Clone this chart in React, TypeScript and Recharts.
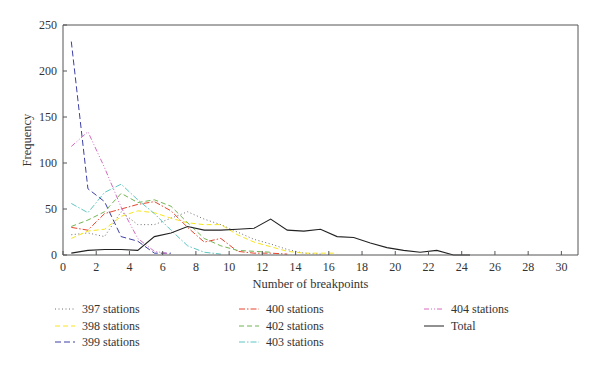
import React from 'react';
import { LineChart, Line, XAxis, YAxis, ReferenceLine, Legend, Label } from 'recharts';

const breakpoints = [0.5, 1.5, 2.5, 3.5, 4.5, 5.5, 6.5, 7.5, 8.5, 9.5, 10.5, 11.5, 12.5, 13.5, 14.5, 15.5, 16.5, 17.5, 18.5, 19.5, 20.5, 21.5, 22.5, 23.5, 24.5];

const s397 = [22, 24, 20, 47, 33, 33, 40, 47, 39, 33, 25, 17, 12, 6, 2, 1];
const s398 = [18, 26, 28, 42, 48, 46, 40, 35, 33, 33, 22, 14, 9, 4, 2, 2, 2];
const s399 = [232, 72, 58, 20, 15, 2, 2];
const s400 = [30, 27, 45, 50, 55, 58, 48, 30, 14, 18, 4, 2, 2, 1];
const s402 = [31, 38, 47, 67, 57, 60, 53, 35, 18, 10, 5, 4, 3];
const s403 = [56, 46, 68, 77, 60, 45, 27, 10, 3, 1];
const s404 = [118, 134, 95, 52, 18, 4, 1];
const total = [2, 5, 6, 6, 5, 20, 24, 31, 27, 27, 28, 29, 39, 27, 26, 28, 20, 19, 13, 8, 5, 3, 5, 0, 0];

const xTicks = [0, 2, 4, 6, 8, 10, 12, 14, 16, 18, 20, 22, 24, 26, 28, 30];
const yTicks = [0, 50, 100, 150, 200, 250];

const series = [
  { key: 's397', name: '397 stations', values: s397, color: '#6e6e6e', dash: '1 2.5' },
  { key: 's398', name: '398 stations', values: s398, color: '#f7e51a', dash: '5 3' },
  { key: 's399', name: '399 stations', values: s399, color: '#3d3fa6', dash: '6 3' },
  { key: 's400', name: '400 stations', values: s400, color: '#e8452e', dash: '6 2 1.5 2' },
  { key: 's402', name: '402 stations', values: s402, color: '#72b450', dash: '5 3' },
  { key: 's403', name: '403 stations', values: s403, color: '#5ec6c2', dash: '6 2 1.5 2' },
  { key: 's404', name: '404 stations', values: s404, color: '#d46cbf', dash: '5 2 1 2 1 2' },
  { key: 'total', name: 'Total', values: total, color: '#222222', dash: undefined as string | undefined },
];

const data = breakpoints.map((x, i) => {
  const row: Record<string, number | undefined> = { x };
  series.forEach((s) => {
    row[s.key] = i < s.values.length ? s.values[i] : undefined;
  });
  return row;
});

const FONT = '"Liberation Serif", "DejaVu Serif", serif';

const LegendContent = () => {
  const colX = [55, 239, 424];
  const rowY = [309, 326, 342];
  return (
    <svg width={600} height={60} style={{ display: 'block' }}>
      {series.map((s, i) => {
        const col = Math.floor(i / 3);
        const row = i % 3;
        const x = colX[col];
        const y = rowY[row] - 300;
        return (
          <g key={s.key}>
            <line x1={x} x2={x + 20} y1={y} y2={y} stroke={s.color} strokeWidth={1} strokeDasharray={s.dash} />
            <text
              x={x + 27}
              y={y}
              dy="0.35em"
              style={{ fontFamily: FONT, fontSize: 12, fill: '#333' }}
            >
              {s.name}
            </text>
          </g>
        );
      })}
    </svg>
  );
};

export default function App() {
  return (
    <div style={{ position: 'absolute', left: 0, top: 0, width: 600, height: 368, background: '#fff', fontFamily: FONT }}>
      <LineChart width={600} height={368} data={data} margin={{ top: 25, right: 22, bottom: 83, left: 0 }}>
        <XAxis
          dataKey="x"
          type="number"
          domain={[0, 31]}
          ticks={xTicks}
          interval={0}
          height={30}
          tickSize={-4}
          tickMargin={11}
          axisLine={{ stroke: '#555' }}
          tickLine={{ stroke: '#555' }}
          tick={{ fill: '#333', fontSize: 12, fontFamily: FONT }}
        >
          <Label
            value="Number of breakpoints"
            position="bottom"
            offset={-6}
            dx={-10}
            style={{ fill: '#333', fontSize: 12.5, fontFamily: FONT }}
          />
        </XAxis>
        <YAxis
          type="number"
          domain={[0, 250]}
          ticks={yTicks}
          interval={0}
          width={63}
          tickSize={-4}
          tickMargin={10}
          axisLine={{ stroke: '#555' }}
          tickLine={{ stroke: '#555' }}
          tick={{ fill: '#333', fontSize: 12, fontFamily: FONT }}
        >
          <Label
            value="Frequency"
            angle={-90}
            position="insideLeft"
            offset={27}
            style={{ fill: '#333', fontSize: 12.5, fontFamily: FONT, textAnchor: 'middle' }}
          />
        </YAxis>
        <ReferenceLine y={250} stroke="#555" strokeWidth={1} />
        <ReferenceLine x={31} stroke="#555" strokeWidth={1} />
        {series.map((s) => (
          <Line
            key={s.key}
            dataKey={s.key}
            name={s.name}
            type="linear"
            stroke={s.color}
            strokeWidth={s.key === 'total' ? 1.1 : 1}
            strokeDasharray={s.dash}
            dot={false}
            activeDot={false}
            isAnimationActive={false}
          />
        ))}
        <Legend
          layout="horizontal"
          verticalAlign="middle"
          align="center"
          content={<LegendContent />}
          wrapperStyle={{ position: 'absolute', left: 0, top: 300, width: 600, height: 60 }}
        />
      </LineChart>
    </div>
  );
}
